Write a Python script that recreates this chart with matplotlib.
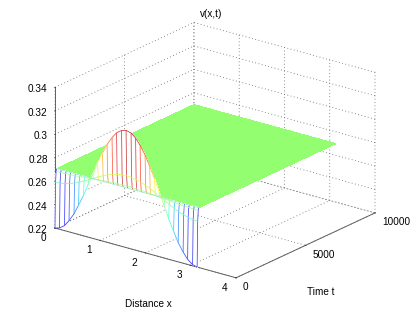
import numpy as np
import matplotlib
matplotlib.use('Agg')
import matplotlib.pyplot as plt
from matplotlib import colormaps
from matplotlib.colors import Normalize
from mpl_toolkits.mplot3d import proj3d
from mpl_toolkits.mplot3d.art3d import Line3DCollection

plt.rcParams['font.family'] = ['Liberation Sans', 'DejaVu Sans']
plt.rcParams['font.size'] = 7.2

# Distance samples
x_values = [0.00, 0.10, 0.21, 0.31, 0.42, 0.52, 0.63, 0.73, 0.84, 0.94, 1.05,
            1.15, 1.26, 1.36, 1.47, 1.57, 1.68, 1.78, 1.88, 1.99, 2.09,
            2.20, 2.30, 2.41, 2.51, 2.62, 2.72, 2.83, 2.93, 3.04, 3.14]
# Time samples
t_values = [0, 40, 80, 120, 10000]
# v(x,t) rows, one for each time sample
half0 = [0.2200, 0.2211, 0.2243, 0.2296, 0.2365, 0.2450, 0.2545, 0.2648,
         0.2752, 0.2855, 0.2950, 0.3035, 0.3105, 0.3157, 0.3189, 0.3200]
half1 = [0.2590, 0.2592, 0.2600, 0.2611, 0.2626, 0.2645, 0.2666, 0.2689,
         0.2711, 0.2734, 0.2755, 0.2774, 0.2789, 0.2800, 0.2808, 0.2810]
half2 = [0.2680, 0.2680, 0.2682, 0.2684, 0.2687, 0.2690, 0.2694, 0.2698,
         0.2702, 0.2706, 0.2710, 0.2713, 0.2716, 0.2718, 0.2720, 0.2720]
row0 = half0 + half0[-2::-1]
row1 = half1 + half1[-2::-1]
row2 = half2 + half2[-2::-1]
row3 = [0.27] * 31
row4 = [0.27] * 31
v_rows = [row0, row1, row2, row3, row4]

x_ticks = [0, 1, 2, 3, 4]
t_ticks = [0, 5000, 10000]
z_ticks = [0.22, 0.24, 0.26, 0.28, 0.3, 0.32, 0.34]
z_labels = ['0.22', '0.24', '0.26', '0.28', '0.3', '0.32', '0.34']

W, H = 415, 313
fig = plt.figure(figsize=(W / 100, H / 100), dpi=100, facecolor='white')
ax = fig.add_axes([0.1, 0.1, 0.8, 0.8], projection='3d', proj_type='ortho', computed_zorder=False)
ax.view_init(elev=21, azim=-52.5)
ax.set_box_aspect((1, 1, 0.66))
ax.set_xlim(0, 4)
ax.set_ylim(0, 10000)
ax.set_zlim(0.22, 0.34)
ax.patch.set_alpha(0)

X, T = np.meshgrid(x_values, t_values)
V = np.array(v_rows)

ax.plot_surface(X[3:], T[3:], V[3:], color='#93FF70', shade=False, linewidth=0, antialiased=False, zorder=1)
ax.plot_surface(X[:4], T[:4], V[:4], color='white', shade=False, linewidth=0, antialiased=False, zorder=2)

cmap = colormaps['jet']
norm = Normalize(0.21, 0.325)


def soft(value, amount):
    c = np.array(cmap(norm(value)))
    c[:3] = c[:3] * (1 - amount) + amount
    return c


# lines running along t (the vertical-looking strokes)
segs, cols = [], []
for j in range(len(x_values)):
    for i in range(3):
        segs.append([(X[i, j], T[i, j], V[i, j]), (X[i + 1, j], T[i + 1, j], V[i + 1, j])])
        cols.append(soft(V[0, j], 0.25))
ax.add_collection3d(Line3DCollection(segs, colors=cols, linewidths=0.55, zorder=3))

# lines running along x (the profiles)
segs, cols = [], []
for i in range(4):
    for j in range(len(x_values) - 1):
        segs.append([(X[i, j], T[i, j], V[i, j]), (X[i, j + 1], T[i, j + 1], V[i, j + 1])])
        c = soft(V[i, j], 0.2)
        if i == 3:
            c[:3] = c[:3] * 0.45 + 0.55 * np.array([0.55, 0.85, 1.0])
        cols.append(c)
ax.add_collection3d(Line3DCollection(segs, colors=cols, linewidths=0.55, zorder=4))

ax.set_xticks(x_ticks)
ax.set_yticks(t_ticks)
ax.set_zticks(z_ticks)
ax.set_zticklabels(z_labels)
ax.set_xlabel('Distance x', labelpad=-3)
ax.set_ylabel('Time t', labelpad=-1)
ax.xaxis.set_rotate_label(False)
ax.yaxis.set_rotate_label(False)

for axis in (ax.xaxis, ax.yaxis, ax.zaxis):
    axis.pane.set_facecolor((1, 1, 1, 0))
    axis.pane.set_edgecolor((1, 1, 1, 0))
    axis.line.set_color('#606060')
    axis.line.set_linewidth(0.7)
    axis._axinfo['grid'].update(color='#666666', linewidth=0.6, linestyle=(0, (1, 3)))
    axis._axinfo['tick'].update(inward_factor=0.02, outward_factor=0.0, linewidth={True: 0.5, False: 0.5})
    axis.set_tick_params(labelsize=7.2, colors='black', pad=-3)
ax.zaxis.set_ticks_position('lower')
ax.zaxis.set_label_position('lower')

# Fit the axes box to the picture: corner (0,0,.22) and corner (4,10000,.22)
target_a = np.array([55.0, H - 228.0])
target_b = np.array([375.0, H - 214.0])
side = 300.0
cx, cy = W / 2, H / 2
for _ in range(3):
    ax.set_position([(cx - side / 2) / W, (cy - side / 2) / H, side / W, side / H])
    fig.canvas.draw()
    M = ax.get_proj()
    xa, ya, _z = proj3d.proj_transform(0, 0, 0.22, M)
    xb, yb, _z = proj3d.proj_transform(4, 10000, 0.22, M)
    pa = ax.transData.transform((xa, ya))
    pb = ax.transData.transform((xb, yb))
    s = (target_b[0] - target_a[0]) / (pb[0] - pa[0])
    side *= s
    cx += target_a[0] - (cx + (pa[0] - cx) * s)
    cy += target_a[1] - (cy + (pa[1] - cy) * s)
ax.set_position([(cx - side / 2) / W, (cy - side / 2) / H, side / W, side / H])
fig.canvas.draw()
sx, sy = ax.transData.transform((1, 1)) - ax.transData.transform((0, 0))


def nudge(artist, dx, dy):
    original = artist.set_position
    artist.set_position = lambda p: original((p[0] + dx / sx, p[1] + dy / sy))


for tick in ax.xaxis.get_major_ticks():
    nudge(tick.label1, -6, 3)
for tick in ax.yaxis.get_major_ticks():
    tick.label1.set_ha('left')
    nudge(tick.label1, 0, 3)
for tick in ax.zaxis.get_major_ticks():
    tick.label1.set_ha('right')
    nudge(tick.label1, 5, 3.5)
nudge(ax.xaxis.label, 22, -23)
nudge(ax.yaxis.label, -13, -17)

title = ax.set_title('v(x,t)', fontsize=7.2, va='center', y=1 - 14 / H)
title.set_transform(fig.transFigure)
title.set_position((211 / W, 1 - 14 / H))

fig.savefig('out.png', dpi=100)
